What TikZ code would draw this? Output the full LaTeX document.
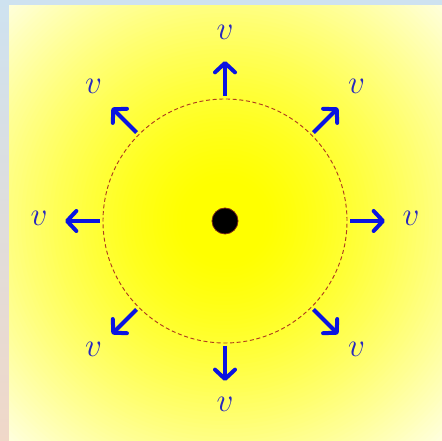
\documentclass[tikz,border=0pt]{standalone}
\usepackage{tikz}
\usetikzlibrary{arrows.meta,positioning,calc}
\definecolor{bgblue}{RGB}{206,226,240}
\definecolor{bgpeach}{RGB}{240,216,200}
\definecolor{sunyellow}{RGB}{255,255,0}
\definecolor{paper}{RGB}{255,255,255}
\definecolor{velblue}{RGB}{10,20,225}
\definecolor{lblblue}{RGB}{40,40,190}
\definecolor{ringred}{RGB}{175,60,30}

\begin{document}
\begin{tikzpicture}[x=0.75pt,y=0.75pt,
    vel/.style={velblue, line width=3pt, -{Straight Barb[length=7pt,width=15pt,round]}},
    lbl/.style={text=lblblue, font=\fontsize{25}{28}\selectfont, inner sep=0pt},
    ring/.style={ringred, dash pattern=on 3pt off 2pt, line width=0.7pt},
    sun/.style={circle, fill=black, draw=ringred!70!black, line width=0.6pt, minimum size=19.5pt, inner sep=0pt}
]
\useasboundingbox (0,0) rectangle (442,441);
\shade[top color=bgblue, bottom color=bgpeach] (0,0) rectangle (442,441);
\begin{scope}
\clip (9,0) rectangle (442,435);
\foreach \r in {320,316,...,40}{
  \pgfmathsetmacro\p{100-85*((\r-40)/265)^1.3}
  \fill[sunyellow!\p!paper] (225,220) circle (\r);
}
\end{scope}
\node[sun] (core) at (225,220) {};
\draw[ring] (core.center) circle (122);
\foreach \a in {0,45,...,315}{
  \coordinate (s\a) at ($(core.center)+(\a:125)$);
  \coordinate (e\a) at ($(core.center)+(\a:160)$);
  \node[lbl] (v\a) at ($(core.center)+(\a:186)+(0,3)$) {$v$};
  \draw[vel] (s\a) -- (e\a);
}
\end{tikzpicture}
\end{document}
